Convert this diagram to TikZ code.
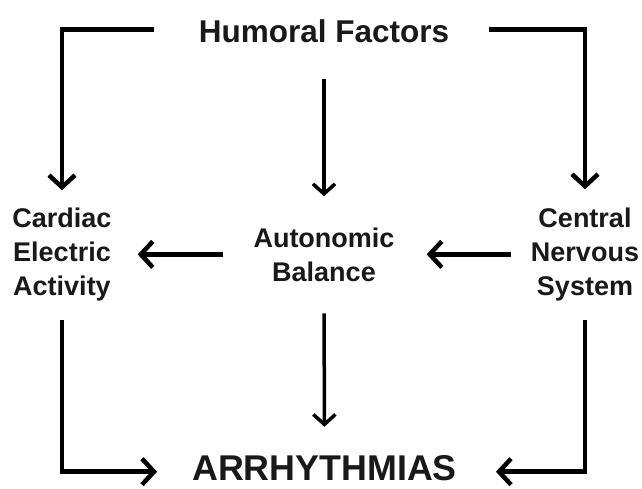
\documentclass[tikz,border=0pt]{standalone}
\usepackage{fontspec}
\setmainfont{Liberation Sans}
\usetikzlibrary{arrows.meta}
\begin{document}
\begin{tikzpicture}[x=1pt,y=-1pt,
  lbl/.style={font=\bfseries\fontsize{27}{34}\selectfont, align=center, inner sep=0pt, text=black!90},
  title/.style={inner sep=0pt, text=black!90},
  conn/.style={line width=4.5pt, line join=miter, -{Straight Barb[length=12pt,width=26pt]}},
  vconn/.style={line width=3.5pt, -{Straight Barb[length=10pt,width=22pt]}}]
\useasboundingbox[fill=white] (0,0) rectangle (642,488);
\node[title, font=\bfseries\fontsize{31.5}{36}\selectfont, anchor=base] (hf) at (324,42) {Humoral Factors};
\node[lbl, anchor=base] (cea) at (62,295) {Cardiac\\Electric\\Activity};
\node[lbl, anchor=base] (ab) at (324,281) {Autonomic\\Balance};
\node[lbl, anchor=base] (cns) at (585,295) {Central\\Nervous\\System};
\node[title, font=\bfseries\fontsize{35.8}{40}\selectfont, anchor=base] (arr) at (324.5,480) {ARRHYTHMIAS};
% top
\draw[conn, shorten >=17pt] ([xshift=-45pt,yshift=1pt]hf.west) -| (cea.north);
\draw[conn, shorten >=18pt] ([xshift=40pt,yshift=1pt]hf.east) -| (cns.north);
\draw[vconn, shorten <=36pt, shorten >=31pt] (hf.south) -- (ab.north);
% middle
\draw[conn, shorten <=30pt, shorten >=26pt] (ab.west) -- (ab.west -| cea.east);
\draw[conn, shorten <=20pt, shorten >=32pt] (ab.east -| cns.west) -- (ab.east);
% bottom
\draw[vconn, shorten <=32pt, shorten >=28pt] (ab.south) -- (arr.north);
\draw[conn, shorten <=19pt, shorten >=35pt] (cea.south) |- ([yshift=-4pt]arr.west);
\draw[conn, shorten <=19pt, shorten >=39pt] (cns.south) |- ([yshift=-4pt]arr.east);
\end{tikzpicture}
\end{document}
